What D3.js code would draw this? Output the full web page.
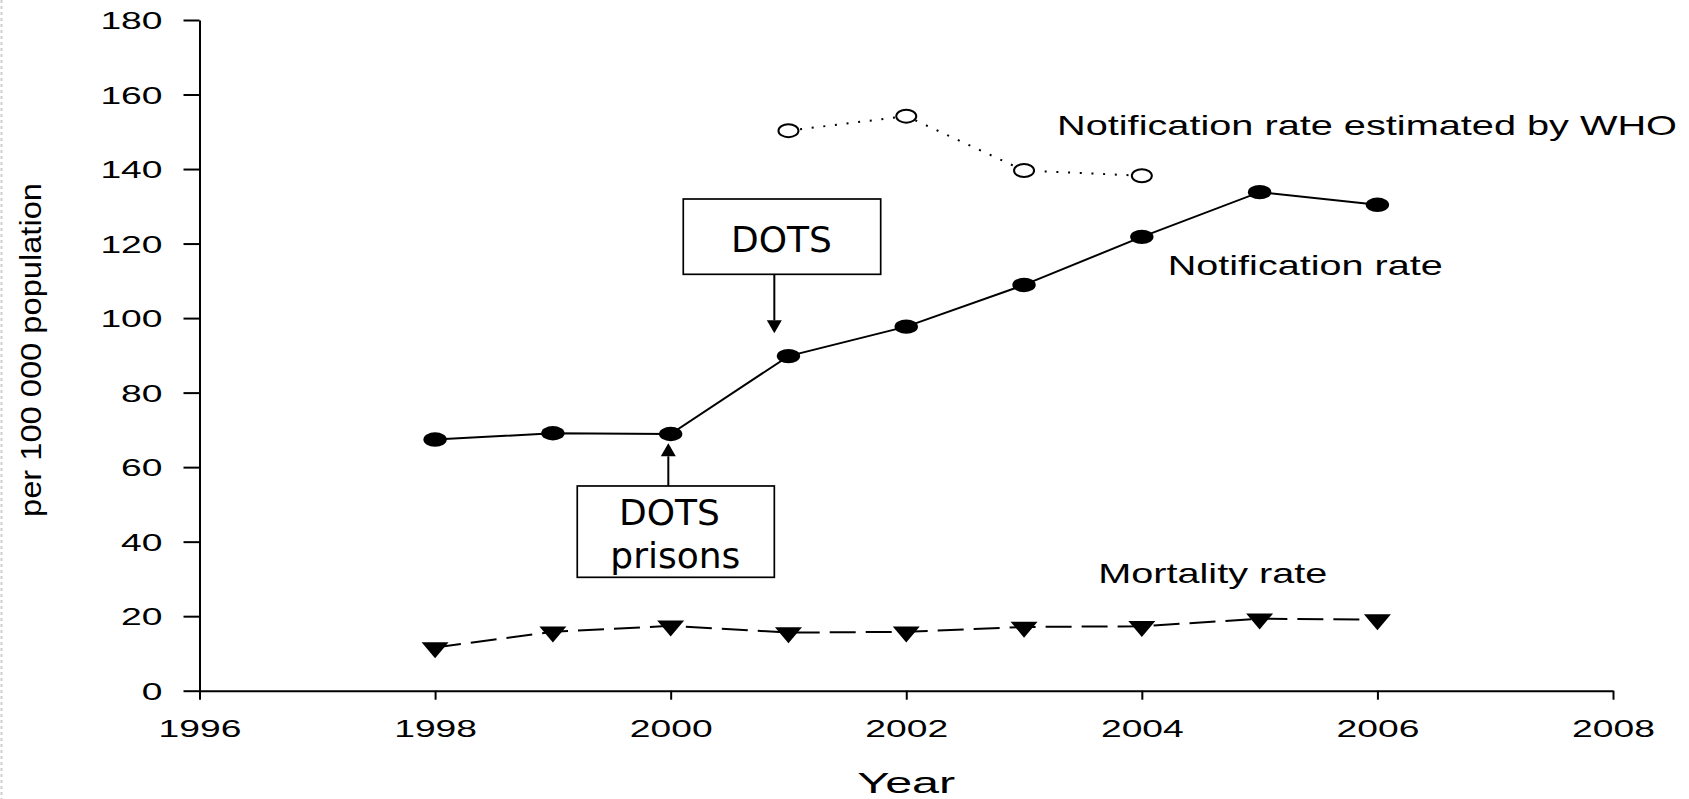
<!DOCTYPE html>
<html>
<head>
<meta charset="utf-8">
<script src="https://cdn.jsdelivr.net/npm/d3@7"></script>
<style>
  html, body { margin: 0; padding: 0; background: #fff; }
  svg { display: block; }
  text { fill: #000; }
</style>
</head>
<body>
<svg id="chart" width="1689" height="799"></svg>
<script>
// ---- data ----
const years = [1998, 1999, 2000, 2001, 2002, 2003, 2004, 2005, 2006];
const notificationRate = [67.4, 69.1, 68.9, 89.8, 97.7, 108.9, 121.8, 133.8, 130.4];
const mortalityRate = [11.6, 15.8, 17.4, 15.6, 15.8, 17.1, 17.3, 19.3, 19.1];
const whoYears = [2001, 2002, 2003, 2004];
const whoEstimate = [150.3, 154.2, 139.6, 138.2];
const xTicks = [1996, 1998, 2000, 2002, 2004, 2006, 2008];
const yTicks = [0, 20, 40, 60, 80, 100, 120, 140, 160, 180];
const seriesLabels = ["Notification rate estimated by WHO", "Notification rate", "Mortality rate"];
const xTitle = "Year";
const yTitle = "per 100 000 population";

// ---- layout ----
const svg = d3.select("#chart");
const x = d3.scaleLinear().domain([1996, 2008]).range([199.5, 1613]);
const y = d3.scaleLinear().domain([0, 180]).range([690.7, 20]);
const sans = "'Liberation Sans', Arial, sans-serif";
const dejavu = "'DejaVu Sans', Verdana, sans-serif";
const digitW = 20.7;

// slide border (left dotted)
svg.append("line").attr("x1", 1.5).attr("x2", 1.5).attr("y1", 0).attr("y2", 799)
  .attr("stroke", "#cfcfcf").attr("stroke-width", 2).attr("stroke-dasharray", "3 3");

// axes
const yAxis = d3.axisLeft(y).tickValues(yTicks).tickSizeInner(16).tickSizeOuter(0).tickPadding(21).tickFormat(d3.format("d"));
const gy = svg.append("g").attr("transform", `translate(${x(1996)},0)`).call(yAxis);
gy.selectAll("text").attr("font-family", sans).attr("font-size", 24).attr("dy", "0.36em")
  .attr("textLength", d => String(d).length * digitW).attr("lengthAdjust", "spacingAndGlyphs");

const xAxis = d3.axisBottom(x).tickValues(xTicks).tickSizeInner(9).tickSizeOuter(0).tickPadding(20).tickFormat(d3.format("d"));
const gx = svg.append("g").attr("transform", `translate(0,${y(0)})`).call(xAxis);
gx.selectAll("text").attr("font-family", sans).attr("font-size", 24)
  .attr("textLength", d => String(d).length * digitW).attr("lengthAdjust", "spacingAndGlyphs");

[gx, gy].forEach(g => {
  g.selectAll("path.domain, .tick line").attr("stroke", "#000").attr("stroke-width", 2);
  g.selectAll("text").attr("fill", "#000");
});

// axis titles
svg.append("text").attr("x", (x(1996) + x(2008)) / 2).attr("y", 793).attr("text-anchor", "middle")
  .attr("font-family", sans).attr("font-size", 30).attr("textLength", 98).attr("lengthAdjust", "spacingAndGlyphs")
  .text(xTitle);
svg.append("text").attr("transform", `translate(41,${(183 + 517) / 2}) rotate(-90)`).attr("text-anchor", "middle")
  .attr("font-family", sans).attr("font-size", 29).attr("textLength", 334).attr("lengthAdjust", "spacingAndGlyphs")
  .text(yTitle);

// ---- series ----
const notif = years.map((yr, i) => ({ x: yr, y: notificationRate[i] }));
const mort = years.map((yr, i) => ({ x: yr, y: mortalityRate[i] }));
const who = whoYears.map((yr, i) => ({ x: yr, y: whoEstimate[i] }));
const line = d3.line().x(d => x(d.x)).y(d => y(d.y));

svg.append("path").attr("d", line(who)).attr("fill", "none").attr("stroke", "#000")
  .attr("stroke-width", 2).attr("stroke-dasharray", "2 9.7");
svg.append("path").attr("d", line(notif)).attr("fill", "none").attr("stroke", "#000").attr("stroke-width", 2);
svg.append("path").attr("d", line(mort)).attr("fill", "none").attr("stroke", "#000")
  .attr("stroke-width", 2).attr("stroke-dasharray", "26 10");

// markers
svg.append("g").selectAll("ellipse").data(who).join("ellipse")
  .attr("cx", d => x(d.x)).attr("cy", d => y(d.y)).attr("rx", 10).attr("ry", 6.5)
  .attr("fill", "#fff").attr("stroke", "#000").attr("stroke-width", 2);
svg.append("g").selectAll("ellipse").data(notif).join("ellipse")
  .attr("cx", d => x(d.x)).attr("cy", d => y(d.y)).attr("rx", 11.7).attr("ry", 7.2).attr("fill", "#000");
const tw = 27, th = 16;
svg.append("g").selectAll("path").data(mort).join("path")
  .attr("transform", d => `translate(${x(d.x)},${y(d.y)})`)
  .attr("d", `M${-tw / 2},${-th / 3}L${tw / 2},${-th / 3}L0,${2 * th / 3}Z`).attr("fill", "#000");

// series labels
const labelPos = [
  { x: 2003.28, y: 149.1, len: 620 },
  { x: 2004.22, y: 111.6, len: 275 },
  { x: 2003.63, y: 28.9, len: 229 }
];
seriesLabels.forEach((t, i) => {
  svg.append("text").attr("x", x(labelPos[i].x)).attr("y", y(labelPos[i].y))
    .attr("font-family", sans).attr("font-size", 28)
    .attr("textLength", labelPos[i].len).attr("lengthAdjust", "spacingAndGlyphs").text(t);
});

// ---- annotations ----
function arrow(xv, yFrom, yTip, dir) {
  const px = x(xv), p0 = y(yFrom), pt = y(yTip);
  const base = pt - dir * 13;
  svg.append("line").attr("x1", px).attr("x2", px).attr("y1", p0).attr("y2", base)
    .attr("stroke", "#000").attr("stroke-width", 2);
  svg.append("path").attr("d", `M${px - 7.5},${base}L${px + 7.5},${base}L${px},${pt}Z`).attr("fill", "#000");
}
// DOTS box
svg.append("rect").attr("x", x(2000.107)).attr("y", y(131.96))
  .attr("width", x(2001.783) - x(2000.107)).attr("height", y(111.75) - y(131.96))
  .attr("fill", "#fff").attr("stroke", "#000").attr("stroke-width", 1.7);
svg.append("text").attr("x", x(2000.94)).attr("y", y(117.8)).attr("text-anchor", "middle")
  .attr("font-family", dejavu).attr("font-size", 36).text("DOTS");
arrow(2000.88, 111.75, 95.9, 1);
// DOTS prisons box
svg.append("rect").attr("x", x(1999.207)).attr("y", y(54.94))
  .attr("width", x(2000.88) - x(1999.207)).attr("height", y(30.43) - y(54.94))
  .attr("fill", "none").attr("stroke", "#000").attr("stroke-width", 1.7);
svg.append("text").attr("x", x(1999.99)).attr("y", y(44.47)).attr("text-anchor", "middle")
  .attr("font-family", dejavu).attr("font-size", 36).text("DOTS");
svg.append("text").attr("x", x(2000.04)).attr("y", y(32.85)).attr("text-anchor", "middle")
  .attr("font-family", dejavu).attr("font-size", 36).text("prisons");
arrow(1999.98, 54.94, 66.4, -1);
</script>
</body>
</html>
